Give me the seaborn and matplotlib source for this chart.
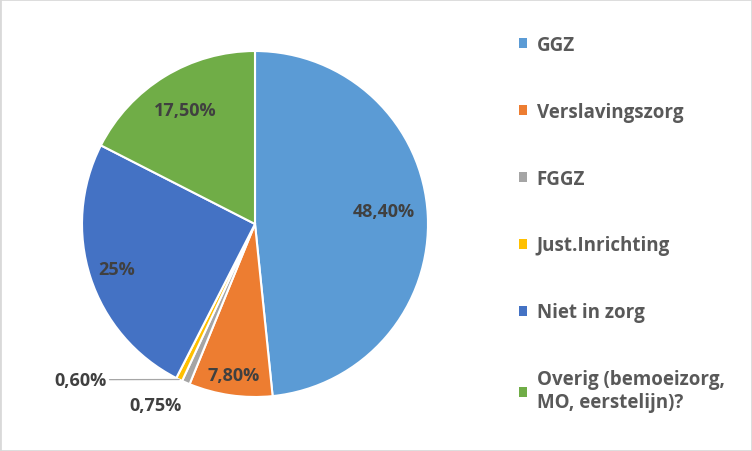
import numpy as np
import matplotlib
matplotlib.use("Agg")
import matplotlib.pyplot as plt
import seaborn as sns
from matplotlib.patches import Patch, Rectangle

sns.set_theme(style="white")
plt.rcParams['font.family'] = ['Open Sans', 'DejaVu Sans']

categories = ["GGZ", "Verslavingszorg", "FGGZ", "Just.Inrichting", "Niet in zorg",
              "Overig (bemoeizorg, MO, eerstelijn)?"]
values = [48.40, 7.80, 0.75, 0.60, 25.0, 17.50]
value_labels = ["48,40%", "7,80%", "0,75%", "0,60%", "25%", "17,50%"]
legend_labels = ["GGZ", "Verslavingszorg", "FGGZ", "Just.Inrichting", "Niet in zorg",
                 "Overig (bemoeizorg,\nMO, eerstelijn)?"]
colors = ["#5B9BD5", "#ED7D31", "#A5A5A5", "#FFC000", "#4472C4", "#70AD47"]

fig = plt.figure(figsize=(7.52, 4.52), dpi=100)
ax = fig.add_axes([82 / 752, 54 / 452, 346 / 752, 346 / 452])

wedges, _ = ax.pie(values, colors=colors, startangle=90, counterclock=False,
                   radius=1.0, wedgeprops=dict(edgecolor="white", linewidth=1.5))
ax.set_xlim(-1, 1)
ax.set_ylim(-1, 1)
ax.set_aspect("equal")

label_color = "#404040"
fs = 13
dist = [0.75, 0.88, None, None, 0.84, 0.77]
ang_shift = [3.0, 0, 0, 0, 0, 0]
for w, lab, d, s in zip(wedges, value_labels, dist, ang_shift):
    if d is None:
        continue
    ang = np.deg2rad((w.theta1 + w.theta2) / 2 + s)
    ax.text(d * np.cos(ang), d * np.sin(ang), lab, ha="center", va="center",
            fontsize=fs, fontweight="bold", color=label_color)

# small slices
ax.text(-0.578, -1.046, value_labels[2], ha="center", va="center",
        fontsize=fs, fontweight="bold", color=label_color, clip_on=False)
w = wedges[3]
ang = np.deg2rad((w.theta1 + w.theta2) / 2)
ax.annotate(value_labels[3], xy=(1.0 * np.cos(ang), 1.0 * np.sin(ang)),
            xytext=(-0.86, -0.90), ha="right", va="center",
            fontsize=fs, fontweight="bold", color=label_color,
            arrowprops=dict(arrowstyle="-", color="#A6A6A6", lw=0.9,
                            shrinkA=0, shrinkB=0), annotation_clip=False)

handles = [Patch(facecolor=c, edgecolor="none") for c in colors]
leg = fig.legend(handles, legend_labels, loc="upper left",
                 bbox_to_anchor=(502 / 752, 1 - 19 / 452), frameon=False,
                 handlelength=0.45, handleheight=0.45, handletextpad=0.5,
                 labelspacing=2.5, prop=dict(size=13.5, weight="bold"))
for t in leg.get_texts():
    t.set_color("#595959")

fig.patches.append(Rectangle((0, 0), 1, 1, transform=fig.transFigure,
                             fill=False, edgecolor="#D9D9D9", linewidth=2))
fig.savefig("out.png", dpi=100, facecolor="white")
